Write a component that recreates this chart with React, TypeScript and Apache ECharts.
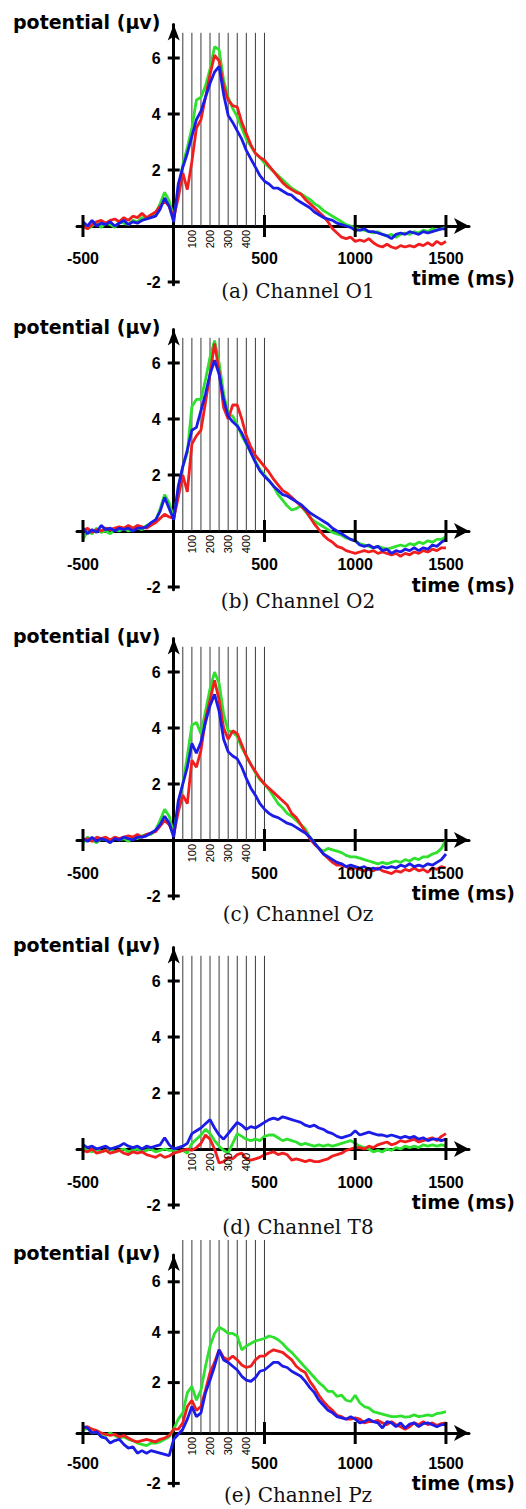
import React, { useEffect, useRef } from "react";
import * as echarts from "echarts";

// time samples (ms), every 25 ms from -500 to 1500
const TIMES: number[] = Array.from({ length: 81 }, (_, i) => -500 + 25 * i);
const X_TICKS = [-500, 500, 1000, 1500];
const Y_TICKS = [-2, 2, 4, 6];
const SUB_LABELS = [100, 200, 300, 400];
const MARKER_LINES = [50, 100, 150, 200, 250, 300, 350, 400, 450, 500];
const CAPTIONS = ["(a) Channel O1", "(b) Channel O2", "(c) Channel Oz", "(d) Channel T8", "(e) Channel Pz"];
const Y_LABEL = "potential (µv)";
const X_LABEL = "time (ms)";

// ---- (a) O1
const O1_GREEN = [0.1, -0.1, 0.0, 0.15, -0.05, 0.1, 0.05, -0.05, 0.15, 0.1, 0.05, 0.2, 0.15, 0.3, 0.25, 0.35, 0.45, 0.8, 1.2, 0.9, 0.3, 1.2, 2.2, 2.8, 3.5, 4.5, 4.6, 5.0, 5.6, 6.4, 6.3, 5.2, 4.6, 4.2, 3.9, 3.5, 3.1, 2.85, 2.6, 2.45, 2.25, 2.1, 1.95, 1.8, 1.65, 1.5, 1.35, 1.25, 1.15, 1.05, 0.95, 0.8, 0.7, 0.55, 0.45, 0.35, 0.25, 0.15, 0.05, 0.0, -0.05, -0.15, -0.15, -0.2, -0.25, -0.2, -0.3, -0.35, -0.3, -0.4, -0.3, -0.25, -0.3, -0.2, -0.25, -0.15, -0.2, -0.1, -0.15, -0.1, -0.05];
const O1_RED = [0.0, -0.1, 0.05, 0.15, 0.2, 0.1, 0.2, 0.25, 0.15, 0.3, 0.2, 0.35, 0.3, 0.45, 0.3, 0.4, 0.5, 0.7, 0.9, 0.7, 0.3, 1.0, 1.9, 1.3, 2.3, 3.5, 3.8, 4.6, 5.4, 6.1, 5.9, 5.0, 4.5, 4.3, 4.25, 3.7, 3.3, 2.9, 2.6, 2.45, 2.35, 2.15, 1.95, 1.75, 1.55, 1.4, 1.3, 1.2, 1.15, 0.95, 0.8, 0.65, 0.5, 0.35, 0.15, -0.1, -0.25, -0.4, -0.45, -0.4, -0.55, -0.5, -0.55, -0.45, -0.6, -0.7, -0.75, -0.65, -0.75, -0.8, -0.7, -0.75, -0.7, -0.75, -0.65, -0.7, -0.6, -0.7, -0.55, -0.65, -0.55];
const O1_BLUE = [0.15, 0.0, 0.2, 0.0, 0.1, 0.05, 0.15, 0.0, 0.1, 0.2, 0.05, 0.15, 0.1, 0.2, 0.25, 0.3, 0.35, 0.6, 1.0, 0.7, 0.15, 1.5, 2.1, 2.6, 3.2, 3.8, 4.1, 4.6, 5.1, 5.5, 5.7, 4.7, 3.95, 3.7, 3.4, 3.1, 2.7, 2.4, 2.1, 1.8, 1.6, 1.5, 1.35, 1.35, 1.25, 1.15, 1.1, 0.95, 0.85, 0.75, 0.65, 0.5, 0.4, 0.3, 0.25, 0.2, 0.1, 0.05, 0.0, -0.05, -0.15, -0.15, -0.1, -0.2, -0.2, -0.25, -0.3, -0.35, -0.45, -0.3, -0.25, -0.3, -0.2, -0.25, -0.3, -0.2, -0.25, -0.2, -0.15, -0.1, -0.1];

// ---- (b) O2
const O2_GREEN = [-0.3, 0.0, -0.1, 0.1, -0.05, 0.0, -0.1, 0.05, 0.0, 0.1, 0.0, 0.05, 0.1, 0.05, 0.2, 0.25, 0.35, 0.8, 1.3, 1.0, 0.45, 1.5, 2.3, 2.8, 4.45, 4.7, 4.7, 5.4, 6.2, 6.8, 6.0, 4.9, 4.2, 4.1, 3.8, 3.4, 3.1, 2.8, 2.5, 2.2, 2.0, 1.8, 1.6, 1.3, 1.1, 0.9, 0.75, 0.8, 0.9, 0.7, 0.5, 0.35, 0.25, 0.15, 0.05, -0.05, -0.1, -0.15, -0.25, -0.3, -0.35, -0.45, -0.5, -0.55, -0.6, -0.55, -0.6, -0.65, -0.6, -0.55, -0.5, -0.55, -0.45, -0.5, -0.4, -0.45, -0.35, -0.4, -0.3, -0.3, -0.2];
const O2_RED = [0.0, 0.1, -0.05, 0.05, 0.0, 0.1, 0.05, 0.1, 0.15, 0.1, 0.2, 0.1, 0.2, 0.15, 0.1, 0.2, 0.3, 0.45, 0.6, 0.5, 0.45, 1.2, 2.0, 1.4, 3.1, 3.4, 3.6, 4.6, 5.6, 6.7, 5.7, 4.4, 4.0, 4.5, 4.5, 4.0, 3.4, 3.0, 2.7, 2.5, 2.3, 2.1, 1.85, 1.65, 1.45, 1.35, 1.2, 1.05, 0.9, 0.75, 0.5, 0.25, 0.05, -0.15, -0.3, -0.4, -0.55, -0.6, -0.7, -0.75, -0.8, -0.75, -0.7, -0.75, -0.7, -0.8, -0.75, -0.8, -0.85, -0.8, -0.9, -0.8, -0.85, -0.75, -0.8, -0.7, -0.75, -0.65, -0.7, -0.6, -0.6];
const O2_BLUE = [0.1, -0.1, 0.05, -0.05, 0.2, 0.05, 0.1, 0.0, 0.1, 0.05, 0.1, 0.0, 0.1, 0.1, 0.15, 0.3, 0.4, 0.7, 1.2, 0.8, 0.4, 1.6, 2.3, 2.9, 3.6, 3.7, 4.3, 4.9, 5.6, 6.1, 5.6, 4.7, 4.1, 3.9, 3.75, 3.5, 3.15, 2.8, 2.45, 2.15, 1.95, 1.8, 1.6, 1.45, 1.3, 1.25, 1.15, 1.05, 0.95, 0.8, 0.65, 0.55, 0.45, 0.35, 0.25, 0.1, 0.0, -0.1, -0.2, -0.3, -0.35, -0.5, -0.55, -0.5, -0.6, -0.55, -0.7, -0.65, -0.8, -0.7, -0.75, -0.65, -0.7, -0.6, -0.7, -0.6, -0.65, -0.5, -0.55, -0.4, -0.3];

// ---- (c) Oz
const OZ_GREEN = [-0.1, 0.1, 0.0, -0.1, 0.05, 0.0, -0.05, 0.1, 0.0, 0.05, -0.05, 0.1, 0.05, 0.15, 0.2, 0.2, 0.35, 0.7, 1.1, 0.85, 0.2, 1.3, 2.0, 3.0, 4.1, 4.2, 3.8, 4.6, 5.4, 6.0, 5.6, 4.5, 3.9, 3.85, 3.7, 3.3, 3.0, 2.7, 2.4, 2.15, 2.0, 1.8, 1.55, 1.3, 1.15, 0.95, 0.85, 0.7, 0.55, 0.4, 0.1, -0.1, -0.3, -0.4, -0.3, -0.35, -0.4, -0.45, -0.55, -0.6, -0.6, -0.65, -0.7, -0.75, -0.8, -0.85, -0.8, -0.85, -0.8, -0.75, -0.8, -0.7, -0.75, -0.65, -0.7, -0.6, -0.6, -0.5, -0.45, -0.3, 0.0];
const OZ_RED = [0.0, 0.05, -0.05, 0.1, 0.05, 0.1, 0.0, 0.1, 0.05, 0.1, 0.15, 0.1, 0.2, 0.1, 0.2, 0.25, 0.3, 0.5, 0.7, 0.55, 0.2, 1.0, 1.6, 1.3, 2.85, 2.6, 3.2, 4.3, 5.0, 5.7, 5.0, 4.0, 3.6, 3.9, 3.8, 3.4, 3.0, 2.7, 2.45, 2.2, 2.0, 1.85, 1.7, 1.55, 1.4, 1.25, 0.95, 0.8, 0.55, 0.3, 0.05, -0.15, -0.3, -0.5, -0.65, -0.8, -0.9, -0.9, -0.95, -1.05, -1.0, -1.05, -1.1, -1.05, -1.1, -1.0, -1.1, -1.15, -1.2, -1.1, -1.15, -1.05, -1.1, -1.0, -1.1, -1.05, -1.15, -1.0, -1.05, -0.95, -1.0];
const OZ_BLUE = [0.05, -0.05, 0.1, -0.05, 0.05, 0.0, -0.1, 0.05, 0.0, 0.1, 0.05, 0.0, 0.1, 0.1, 0.15, 0.25, 0.35, 0.55, 0.85, 0.6, 0.1, 1.4, 2.0, 2.6, 3.45, 3.1, 3.5, 4.2, 4.8, 5.2, 4.6, 3.6, 3.15, 3.0, 2.9, 2.6, 2.2, 1.85, 1.6, 1.3, 1.1, 0.95, 0.85, 0.8, 0.7, 0.6, 0.55, 0.45, 0.35, 0.25, 0.1, -0.1, -0.3, -0.5, -0.6, -0.7, -0.8, -0.85, -0.95, -0.9, -0.95, -1.0, -0.95, -1.05, -1.0, -1.05, -0.95, -1.0, -0.95, -1.0, -0.9, -0.95, -0.85, -0.95, -0.9, -0.95, -0.85, -0.9, -0.8, -0.7, -0.5];

// ---- (d) T8
const T8_GREEN = [0.05, -0.05, -0.1, 0.0, -0.1, -0.05, 0.0, -0.1, -0.05, 0.0, -0.1, -0.05, 0.0, -0.1, -0.05, 0.0, -0.1, -0.05, 0.0, -0.05, -0.05, -0.1, -0.05, -0.15, 0.2, 0.35, 0.5, 0.7, 0.55, 0.3, 0.1, -0.05, -0.15, 0.2, 0.55, 0.45, 0.35, 0.3, 0.35, 0.3, 0.45, 0.5, 0.5, 0.4, 0.3, 0.35, 0.3, 0.25, 0.15, 0.2, 0.15, 0.1, 0.15, 0.1, 0.15, 0.1, 0.15, 0.2, 0.25, 0.3, 0.2, 0.1, 0.05, 0.0, -0.1, -0.05, -0.1, 0.0, -0.05, 0.05, 0.0, 0.1, 0.05, 0.1, 0.05, 0.15, 0.1, 0.15, 0.1, 0.15, 0.1];
const T8_RED = [-0.05, -0.1, 0.0, -0.15, -0.1, -0.05, -0.15, -0.1, -0.05, -0.15, -0.2, -0.1, -0.15, -0.1, -0.2, -0.25, -0.3, -0.2, -0.3, -0.25, -0.15, -0.1, -0.05, 0.0, -0.05, 0.05, 0.2, 0.5, 0.35, 0.0, -0.5, -0.45, -0.3, -0.35, -0.2, -0.15, -0.35, -0.4, -0.35, -0.3, -0.2, -0.15, -0.1, -0.2, -0.15, -0.2, -0.4, -0.35, -0.4, -0.45, -0.4, -0.45, -0.45, -0.4, -0.35, -0.25, -0.2, -0.15, -0.05, 0.0, 0.05, 0.05, 0.0, 0.1, 0.05, 0.15, 0.2, 0.25, 0.15, 0.2, 0.3, 0.25, 0.3, 0.35, 0.25, 0.3, 0.35, 0.4, 0.3, 0.45, 0.55];
const T8_BLUE = [0.15, 0.05, 0.1, 0.0, 0.05, 0.1, 0.0, 0.05, 0.1, 0.2, 0.1, 0.05, 0.1, 0.0, 0.1, 0.05, 0.1, 0.15, 0.4, 0.15, 0.0, 0.05, 0.1, 0.2, 0.55, 0.65, 0.75, 0.9, 1.05, 0.75, 0.5, 0.35, 0.55, 0.75, 0.95, 0.85, 0.7, 0.8, 0.75, 0.85, 0.95, 1.05, 1.1, 1.05, 1.15, 1.1, 1.05, 1.0, 0.95, 0.85, 0.8, 0.85, 0.75, 0.7, 0.6, 0.55, 0.45, 0.4, 0.45, 0.5, 0.65, 0.5, 0.55, 0.6, 0.55, 0.5, 0.5, 0.45, 0.5, 0.45, 0.4, 0.45, 0.4, 0.45, 0.35, 0.4, 0.3, 0.35, 0.35, 0.3, 0.35];

// ---- (e) Pz
const PZ_GREEN = [0.1, 0.2, 0.0, 0.05, -0.05, -0.1, 0.0, -0.1, -0.2, -0.15, -0.25, -0.3, -0.4, -0.45, -0.5, -0.4, -0.4, -0.35, -0.25, -0.15, 0.15, 0.55, 0.8, 1.6, 1.85, 1.3, 1.7, 2.65, 3.45, 3.95, 4.2, 4.1, 3.95, 3.95, 3.85, 3.3, 3.45, 3.55, 3.65, 3.7, 3.75, 3.85, 3.8, 3.7, 3.55, 3.35, 3.2, 3.0, 2.8, 2.6, 2.4, 2.2, 2.0, 1.85, 1.65, 1.65, 1.45, 1.5, 1.3, 1.25, 1.5, 1.2, 1.05, 1.0, 0.85, 0.8, 0.75, 0.7, 0.65, 0.65, 0.68, 0.63, 0.65, 0.72, 0.65, 0.68, 0.72, 0.68, 0.77, 0.8, 0.85];
const PZ_RED = [0.2, 0.25, 0.15, 0.1, 0.0, -0.05, -0.1, -0.05, -0.15, -0.1, -0.2, -0.3, -0.35, -0.3, -0.25, -0.3, -0.35, -0.25, -0.2, -0.1, 0.15, 0.15, 0.4, 1.05, 1.3, 0.9, 1.05, 1.7, 2.4, 2.8, 3.3, 3.0, 2.9, 3.05, 2.9, 2.7, 2.6, 2.65, 2.9, 3.05, 3.05, 3.2, 3.3, 3.25, 3.2, 3.05, 2.9, 2.65, 2.5, 2.4, 2.05, 1.8, 1.5, 1.25, 1.05, 0.9, 0.7, 0.65, 0.55, 0.55, 0.6, 0.55, 0.4, 0.45, 0.45, 0.5, 0.4, 0.33, 0.45, 0.33, 0.25, 0.15, 0.25, 0.4, 0.33, 0.45, 0.33, 0.4, 0.3, 0.37, 0.4];
const PZ_BLUE = [0.25, 0.2, 0.0, 0.05, -0.15, -0.2, -0.4, -0.3, -0.25, -0.45, -0.6, -0.55, -0.8, -0.7, -0.8, -0.7, -0.75, -0.8, -0.85, -0.9, -0.25, -0.05, 0.15, 0.55, 1.05, 0.65, 0.8, 1.6, 2.1, 2.65, 3.3, 2.9, 2.8, 2.65, 2.5, 2.25, 2.1, 2.05, 2.2, 2.45, 2.5, 2.65, 2.8, 2.8, 2.65, 2.6, 2.45, 2.35, 2.25, 2.05, 1.8, 1.6, 1.3, 1.1, 0.9, 0.8, 0.65, 0.6, 0.55, 0.65, 0.55, 0.4, 0.45, 0.55, 0.45, 0.4, 0.2, 0.45, 0.4, 0.25, 0.4, 0.2, 0.35, 0.4, 0.25, 0.37, 0.4, 0.33, 0.25, 0.33, 0.33];

const COLORS = { green: "#2fe02f", red: "#f01e1e", blue: "#1c1ce8" };

// layout (pixels) of each panel
const X_MIN = -533;
const X_MAX = 1627;
const Y_MIN = -2.1;
const GRID_LEFT = 77;
const GRID_WIDTH = 392;
const TICK_FONT = 'bold 16px "Liberation Sans"';

const PANELS = [
  { caption: CAPTIONS[0], green: O1_GREEN, red: O1_RED, blue: O1_BLUE, zero: 226, ppu: 28, yMax: 7.2, lineTop: 6.9, captionY: 291, timeY: 278, xLabDy: 32 },
  { caption: CAPTIONS[1], green: O2_GREEN, red: O2_RED, blue: O2_BLUE, zero: 531, ppu: 28, yMax: 7.2, lineTop: 6.9, captionY: 601, timeY: 585, xLabDy: 33 },
  { caption: CAPTIONS[2], green: OZ_GREEN, red: OZ_RED, blue: OZ_BLUE, zero: 840, ppu: 28, yMax: 7.2, lineTop: 6.9, captionY: 914, timeY: 893, xLabDy: 33 },
  { caption: CAPTIONS[3], green: T8_GREEN, red: T8_RED, blue: T8_BLUE, zero: 1149, ppu: 28, yMax: 7.2, lineTop: 6.9, captionY: 1227, timeY: 1202, xLabDy: 33 },
  { caption: CAPTIONS[4], green: PZ_GREEN, red: PZ_RED, blue: PZ_BLUE, zero: 1433, ppu: 25.2, yMax: 7.06, lineTop: 7.66, captionY: 1495, timeY: 1483, xLabDy: 30 },
];

function buildOption() {
  const grid: any[] = [];
  const xAxis: any[] = [];
  const yAxis: any[] = [];
  const series: any[] = [];
  const graphic: any[] = [];

  PANELS.forEach((p, i) => {
    const top = p.zero - p.yMax * p.ppu;
    grid.push({
      left: GRID_LEFT,
      width: GRID_WIDTH,
      top,
      height: (p.yMax - Y_MIN) * p.ppu,
      containLabel: false,
      outerBoundsMode: "none",
    });
    xAxis.push({
      type: "value",
      gridIndex: i,
      min: X_MIN,
      max: X_MAX,
      axisLine: {
        show: true,
        onZero: true,
        symbol: ["none", "arrow"],
        symbolSize: [12, 15],
        lineStyle: { color: "#000", width: 3 },
      },
      axisTick: { show: false },
      splitLine: { show: false },
      axisLabel: { show: false },
    });
    yAxis.push({
      type: "value",
      gridIndex: i,
      min: Y_MIN,
      max: p.yMax,
      axisLine: {
        show: true,
        onZero: true,
        symbol: ["none", "arrow"],
        symbolSize: [9, 16],
        lineStyle: { color: "#000", width: 3 },
      },
      axisTick: { show: false },
      splitLine: { show: false },
      axisLabel: { show: false },
    });

    // thin vertical marker lines (50..500 ms)
    series.push({
      type: "custom",
      xAxisIndex: i,
      yAxisIndex: i,
      coordinateSystem: "cartesian2d",
      data: [[0, 0]],
      clip: false,
      silent: true,
      z: 1,
      renderItem: (_params: any, api: any) => {
        const children = MARKER_LINES.map((t) => {
          const a = api.coord([t, 0]);
          const b = api.coord([t, p.lineTop]);
          return {
            type: "line",
            shape: { x1: a[0], y1: a[1], x2: b[0], y2: b[1] },
            style: { stroke: "#3a3a3a", lineWidth: 1 },
          };
        });
        return { type: "group", children };
      },
    });

    // data lines
    const mk = (arr: number[], color: string, z: number) => ({
      type: "line",
      xAxisIndex: i,
      yAxisIndex: i,
      data: TIMES.map((t, k) => [t, arr[k]]),
      showSymbol: false,
      symbol: "none",
      lineStyle: { color, width: 2.8 },
      itemStyle: { color },
      z,
      silent: true,
    });
    series.push(mk(p.green, COLORS.green, 2));
    series.push(mk(p.red, COLORS.red, 3));
    series.push(mk(p.blue, COLORS.blue, 4));

    // crossing ticks, tick labels and small rotated labels
    series.push({
      type: "custom",
      xAxisIndex: i,
      yAxisIndex: i,
      coordinateSystem: "cartesian2d",
      data: [[0, 0]],
      clip: false,
      silent: true,
      z: 6,
      renderItem: (_params: any, api: any) => {
        const children: any[] = [];
        X_TICKS.forEach((t) => {
          const c = api.coord([t, 0]);
          children.push({
            type: "line",
            shape: { x1: c[0], y1: c[1] - 11, x2: c[0], y2: c[1] + 11 },
            style: { stroke: "#000", lineWidth: 3 },
          });
          children.push({
            type: "text",
            x: c[0],
            y: c[1] + p.xLabDy,
            style: { text: String(t), fill: "#000", font: TICK_FONT, align: "center", verticalAlign: "middle" },
          });
        });
        Y_TICKS.forEach((v) => {
          const c = api.coord([0, v]);
          children.push({
            type: "line",
            shape: { x1: c[0] - 6, y1: c[1], x2: c[0] + 6, y2: c[1] },
            style: { stroke: "#000", lineWidth: 3 },
          });
          children.push({
            type: "text",
            x: c[0] - 13,
            y: c[1],
            style: { text: String(v), fill: "#000", font: TICK_FONT, align: "right", verticalAlign: "middle" },
          });
        });
        SUB_LABELS.forEach((t) => {
          const c = api.coord([t, 0]);
          children.push({
            type: "text",
            x: c[0],
            y: c[1] + 4,
            rotation: Math.PI / 2,
            style: {
              text: String(t),
              fill: "#000",
              font: '11px "Liberation Sans"',
              align: "right",
              verticalAlign: "middle",
            },
          });
        });
        return { type: "group", children };
      },
    });

    graphic.push({
      type: "text",
      x: 13,
      y: top - 2.5,
      style: {
        text: Y_LABEL,
        fill: "#000",
        font: 'bold 19px "DejaVu Sans"',
        align: "left",
        verticalAlign: "middle",
        textAlign: "left",
        textVerticalAlign: "middle",
      },
    });
    graphic.push({
      type: "text",
      x: 515,
      y: p.timeY,
      style: {
        text: X_LABEL,
        fill: "#000",
        font: 'bold 19px "DejaVu Sans"',
        align: "right",
        verticalAlign: "middle",
        textAlign: "right",
        textVerticalAlign: "middle",
      },
    });
    graphic.push({
      type: "text",
      x: 298,
      y: p.captionY,
      style: {
        text: p.caption,
        fill: "#111",
        font: '20px "DejaVu Serif"',
        align: "center",
        verticalAlign: "middle",
        textAlign: "center",
        textVerticalAlign: "middle",
      },
    });
  });

  return {
    animation: false,
    backgroundColor: "#fff",
    grid,
    xAxis,
    yAxis,
    series,
    graphic,
  };
}

export default function App() {
  const ref = useRef<HTMLDivElement>(null);
  useEffect(() => {
    if (!ref.current) return;
    const chart = echarts.init(ref.current, undefined, { renderer: "svg" });
    chart.setOption(buildOption() as any);
    return () => chart.dispose();
  }, []);
  return (
    <div
      ref={ref}
      style={{ position: "absolute", left: 0, top: 0, width: 526, height: 1509, background: "#fff" }}
    />
  );
}
